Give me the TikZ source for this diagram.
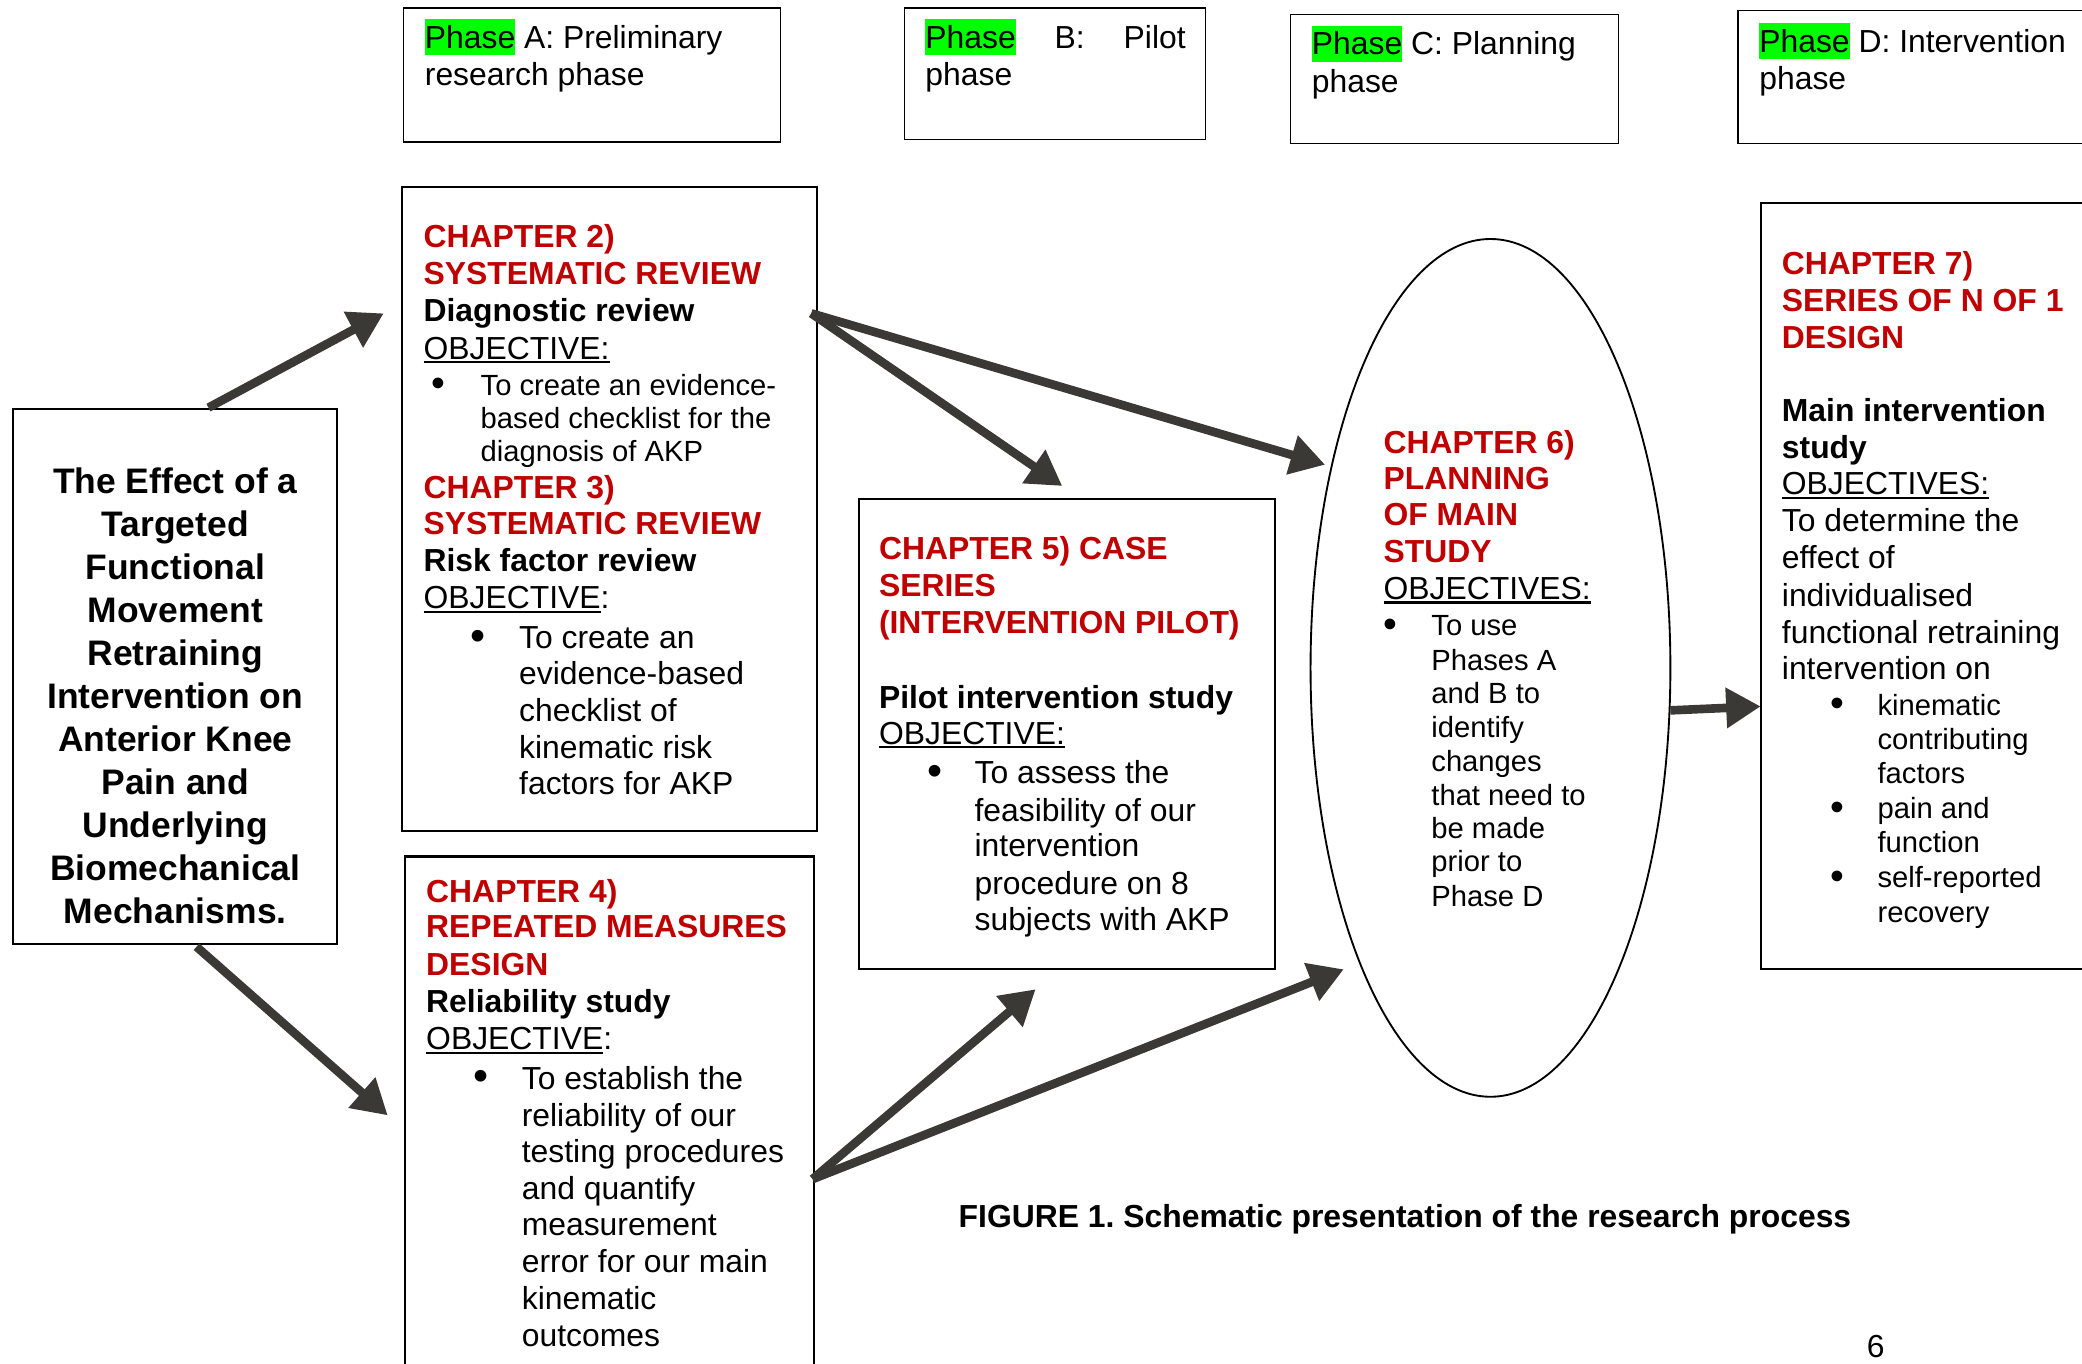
\documentclass[tikz,border=0pt]{standalone}
\usepackage{fontspec}
\setmainfont{Liberation Sans}
\usetikzlibrary{arrows.meta,shapes.geometric}

\definecolor{diared}{RGB}{192,0,0}
\definecolor{hlgreen}{RGB}{0,255,0}
\definecolor{arrowgray}{RGB}{58,57,54}

% type sizes
\newcommand\dfR{\fontsize{24}{28}\selectfont\mdseries}
\newcommand\dfS{\fontsize{22}{25}\selectfont\mdseries}
\newcommand\dfB{\fontsize{24}{28}\selectfont\bfseries}
\newcommand\dfRed{\dfB\color{diared}}

% one line of a stacked text block: #1 = distance from previous baseline
\newcommand\dLine[2]{\baselineskip=#1pt\relax\hbox{#2}}
% indented line: #2 = indent
\newcommand\dInd[3]{\baselineskip=#1pt\relax\hbox{\dfR\hspace*{#2pt}#3}}
% bullet line: #2 = bullet centre, #3 = text indent, #4 = font, #5 = text
\newcommand\dBul[5]{\baselineskip=#1pt\relax\hbox{#4\hspace*{#2pt}\makebox[0pt]{\raisebox{-1.2pt}{\scalebox{1.35}{•}}}\hspace*{\dimexpr#3pt-#2pt\relax}#5}}
% underlined word
\newcommand\dUl[1]{\setbox0=\hbox{#1}\rlap{\rule[-3.2pt]{\wd0}{1.6pt}}\box0\relax}
% highlighted word
\newcommand\dHl[1]{\setbox0=\hbox{#1}\rlap{\textcolor{hlgreen}{\rule[-5pt]{\wd0}{27pt}}}\box0\relax}
% centred title line
\newcommand\tLine[1]{\hbox to 240pt{\hfil #1\hfil}}

\begin{document}
\begin{tikzpicture}[x=1pt,y=-1pt,
  box/.style={draw=black, line width=1.6pt, inner sep=0pt, outer sep=0pt, anchor=north west},
  phasebox/.style={box, line width=1.1pt},
  txt/.style={inner sep=0pt, outer sep=0pt, anchor=base west, text=black},
  flow/.style={draw=arrowgray, line width=6.5pt, -{Triangle[length=26pt,width=29pt]}}]

\useasboundingbox (0,0) rectangle (1568,1027);
\fill[white] (0,0) rectangle (1568,1027);

% ---------- phase headers ----------
\node[phasebox, minimum width=284pt, minimum height=101pt] (phA) at (304,6) {};
\node[phasebox, minimum width=227pt, minimum height=99pt]  (phB) at (681,6) {};
\node[phasebox, minimum width=247pt, minimum height=97pt]  (phC) at (972,11) {};
\node[phasebox, minimum width=300pt, minimum height=100pt] (phD) at (1309,8) {};

\node[txt] (phAtxt) at (320,36.4) {\vtop{\lineskiplimit=-1000pt\relax
  \dLine{28}{\dfR\dHl{Phase} A: Preliminary}
  \dLine{28}{\dfR research phase}}};
\node[txt] (phBtxt) at (697,36.4) {\vtop{\lineskiplimit=-1000pt\relax
  \dLine{28}{\dfR\hbox to 196pt{\dHl{Phase}\hfill B:\hfill Pilot}}
  \dLine{28}{\dfR phase}}};
\node[txt] (phCtxt) at (988,41.4) {\vtop{\lineskiplimit=-1000pt\relax
  \dLine{28}{\dfR\dHl{Phase} C: Planning}
  \dLine{28}{\dfR phase}}};
\node[txt] (phDtxt) at (1325,39.4) {\vtop{\lineskiplimit=-1000pt\relax
  \dLine{28}{\dfR\dHl{Phase} D: Intervention}
  \dLine{28}{\dfR phase}}};

% ---------- thesis title ----------
\node[box, minimum width=244pt, minimum height=403pt] (title) at (10,308) {};
\node[inner sep=0pt, anchor=base] (titletxt) at (132,371.3) {\vtop{\lineskiplimit=-1000pt\relax
  \fontsize{26.7}{32.4}\selectfont\bfseries
  \tLine{The Effect of a}
  \tLine{Targeted}
  \tLine{Functional}
  \tLine{Movement}
  \tLine{Retraining}
  \tLine{Intervention on}
  \tLine{Anterior Knee}
  \tLine{Pain and}
  \tLine{Underlying}
  \tLine{Biomechanical}
  \tLine{Mechanisms.}}};

% ---------- chapters 2 and 3 ----------
\node[box, minimum width=312pt, minimum height=485pt] (ch23) at (303,141) {};
\node[txt] (ch23txt) at (319,186.4) {\vtop{\lineskiplimit=-1000pt\relax
  \dLine{28}{\dfRed CHAPTER 2)}
  \dLine{28}{\dfRed SYSTEMATIC REVIEW}
  \dLine{28}{\dfB Diagnostic review}
  \dLine{28}{\dfR\dUl{OBJECTIVE:}}
  \dBul{27.3}{11}{43}{\dfS}{To create an evidence-}
  \dLine{25}{\dfS\hspace*{43pt}based checklist for the}
  \dLine{25}{\dfS\hspace*{43pt}diagnosis of AKP}
  \dLine{27.7}{\dfRed CHAPTER 3)}
  \dLine{27}{\dfRed SYSTEMATIC REVIEW}
  \dLine{28}{\dfB Risk factor review}
  \dLine{28}{\dfR\dUl{OBJECTIVE}:}
  \dBul{30}{41}{72}{\dfR}{To create an}
  \dInd{27}{72}{evidence-based}
  \dInd{28}{72}{checklist of}
  \dInd{28}{72}{kinematic risk}
  \dInd{27}{72}{factors for AKP}}};

% ---------- chapter 4 ----------
\node[box, minimum width=308pt, minimum height=420pt] (ch4) at (305,645) {};
\node[txt] (ch4txt) at (321,679.4) {\vtop{\lineskiplimit=-1000pt\relax
  \dLine{28}{\dfRed CHAPTER 4)}
  \dLine{27}{\dfRed REPEATED MEASURES}
  \dLine{28}{\dfRed DESIGN}
  \dLine{28}{\dfB Reliability study}
  \dLine{28}{\dfR\dUl{OBJECTIVE}:}
  \dBul{30}{41}{72}{\dfR}{To establish the}
  \dInd{28}{72}{reliability of our}
  \dInd{27}{72}{testing procedures}
  \dInd{28}{72}{and quantify}
  \dInd{27}{72}{measurement}
  \dInd{28}{72}{error for our main}
  \dInd{28}{72}{kinematic}
  \dInd{28}{72}{outcomes}}};

% ---------- chapter 5 ----------
\node[box, minimum width=313pt, minimum height=354pt] (ch5) at (647,376) {};
\node[txt] (ch5txt) at (662,421.4) {\vtop{\lineskiplimit=-1000pt\relax
  \dLine{28}{\dfRed CHAPTER 5) CASE}
  \dLine{28}{\dfRed SERIES}
  \dLine{28}{\dfRed (INTERVENTION PILOT)}
  \dLine{56}{\dfB Pilot intervention study}
  \dLine{27}{\dfR\dUl{OBJECTIVE:}}
  \dBul{30}{42}{72}{\dfR}{To assess the}
  \dInd{28}{72}{feasibility of our}
  \dInd{27}{72}{intervention}
  \dInd{28}{72}{procedure on 8}
  \dInd{27}{72}{subjects with AKP}}};

% ---------- chapter 6 ----------
\node[ellipse, draw=black, line width=1.4pt, inner sep=0pt,
      minimum width=271pt, minimum height=646pt] (ch6) at (1122.5,503) {};
\node[txt] (ch6txt) at (1042,341.4) {\vtop{\lineskiplimit=-1000pt\relax
  \dLine{28}{\dfRed CHAPTER 6)}
  \dLine{27}{\dfRed PLANNING}
  \dLine{27}{\dfRed OF MAIN}
  \dLine{28}{\dfRed STUDY}
  \dLine{28}{\dfR\dUl{OBJECTIVES:}}
  \dBul{27.3}{5}{36}{\dfS}{To use}
  \dLine{26}{\dfS\hspace*{36pt}Phases A}
  \dLine{25}{\dfS\hspace*{36pt}and B to}
  \dLine{26}{\dfS\hspace*{36pt}identify}
  \dLine{25}{\dfS\hspace*{36pt}changes}
  \dLine{26}{\dfS\hspace*{36pt}that need to}
  \dLine{25}{\dfS\hspace*{36pt}be made}
  \dLine{25}{\dfS\hspace*{36pt}prior to}
  \dLine{26}{\dfS\hspace*{36pt}Phase D}}};

% ---------- chapter 7 ----------
\node[box, minimum width=300pt, minimum height=577pt] (ch7) at (1326,153) {};
\node[txt] (ch7txt) at (1342,206.4) {\vtop{\lineskiplimit=-1000pt\relax
  \dLine{28}{\dfRed CHAPTER 7)}
  \dLine{28}{\dfRed SERIES OF N OF 1}
  \dLine{28}{\dfRed DESIGN}
  \dLine{55}{\dfB Main intervention}
  \dLine{28}{\dfB study}
  \dLine{27}{\dfR\dUl{OBJECTIVES:}}
  \dLine{28}{\dfR To determine the}
  \dLine{28}{\dfR effect of}
  \dLine{28}{\dfR individualised}
  \dLine{28}{\dfR functional retraining}
  \dLine{27}{\dfR intervention on}
  \dBul{27.3}{42}{72}{\dfS}{kinematic}
  \dLine{26}{\dfS\hspace*{72pt}contributing}
  \dLine{25}{\dfS\hspace*{72pt}factors}
  \dBul{27}{42}{72}{\dfS}{pain and}
  \dLine{25}{\dfS\hspace*{72pt}function}
  \dBul{27}{42}{72}{\dfS}{self-reported}
  \dLine{26}{\dfS\hspace*{72pt}recovery}}};

% ---------- caption and page number ----------
\node[txt] (caption) at (722,924.4) {\dfB FIGURE 1.\ Schematic presentation of the research process};
\node[txt] (pageno) at (1406,1022) {\dfR 6};

% ---------- arrow end points ----------
\coordinate (titleTop) at (157,307);
\coordinate (titleBot) at (148,713);
\coordinate (ch23In)   at (289,236);
\coordinate (ch4In)    at (292,840);
\coordinate (ch23Out)  at (611,236);
\coordinate (ch4Out)   at (612,888);
\coordinate (ch5InTop) at (800,366);
\coordinate (ch5InBot) at (780,745);
\coordinate (ch6InTop) at (998,350);
\coordinate (ch6InBot) at (1012,730);
\coordinate (ch6Out)   at (1258,535);
\coordinate (ch7In)    at (1326,532);

% ---------- arrows ----------
\draw[flow] (titleTop) -- (ch23In);
\draw[flow] (titleBot) -- (ch4In);
\draw[flow] (ch23Out) -- (ch5InTop);
\draw[flow] (ch23Out) -- (ch6InTop);
\draw[flow] (ch4Out) -- (ch5InBot);
\draw[flow] (ch4Out) -- (ch6InBot);
\draw[flow] (ch6Out) -- (ch7In);
\end{tikzpicture}
\end{document}
